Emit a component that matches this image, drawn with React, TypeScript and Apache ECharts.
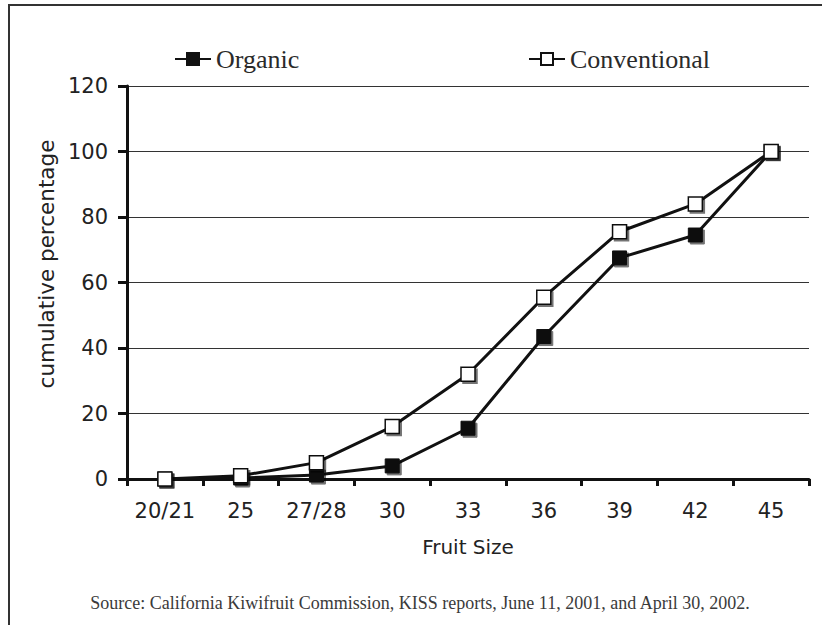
import React, { useEffect, useRef } from "react";
import * as echarts from "echarts";

const categories = ["20/21", "25", "27/28", "30", "33", "36", "39", "42", "45"];
const organic = [0, 0.3, 1.2, 4, 15.5, 43.5, 67.5, 74.5, 100];
const conventional = [0, 1, 5, 16, 32, 55.5, 75.5, 84, 100];
const yTicks = { min: 0, max: 120, interval: 20 };
const yAxisTitle = "cumulative percentage";
const xAxisTitle = "Fruit Size";
const sourceNote =
  "Source: California Kiwifruit Commission, KISS reports, June 11, 2001, and April 30, 2002.";

const SANS = "DejaVu Sans";
const SERIF = "Liberation Serif";

export default function App() {
  const ref = useRef<HTMLDivElement>(null);
  useEffect(() => {
    if (!ref.current) return;
    const chart = echarts.init(ref.current, undefined, { renderer: "svg" });
    const markerShadow = {
      shadowColor: "rgba(0,0,0,0.55)",
      shadowBlur: 0,
      shadowOffsetX: 2,
      shadowOffsetY: 2,
    };
    const legendBase = {
      top: 41,
      itemWidth: 36,
      itemHeight: 15,
      itemGap: 8,
      textStyle: { fontFamily: SERIF, fontSize: 26, color: "#2a2a2a" },
    };
    chart.setOption({
      animation: false,
      backgroundColor: "#fff",
      grid: { left: 127, right: 13, top: 86, bottom: 146 },
      legend: [
        { ...legendBase, data: ["Organic"], left: 169 },
        { ...legendBase, data: ["Conventional"], left: 523 },
      ],
      xAxis: {
        type: "category",
        data: categories,
        boundaryGap: true,
        name: xAxisTitle,
        nameLocation: "middle",
        nameGap: 58,
        nameTextStyle: { fontFamily: SANS, fontSize: 20, color: "#222" },
        axisLine: { lineStyle: { color: "#111", width: 3 } },
        axisTick: { show: true, length: 7, lineStyle: { color: "#111", width: 3 } },
        axisLabel: {
          fontFamily: SANS,
          fontSize: 21,
          color: "#222",
          margin: 21,
          interval: 0,
          hideOverlap: false,
        },
        splitLine: { show: false },
      },
      yAxis: {
        type: "value",
        min: yTicks.min,
        max: yTicks.max,
        interval: yTicks.interval,
        axisLine: { show: true, lineStyle: { color: "#111", width: 3 } },
        axisTick: { show: true, length: 9, lineStyle: { color: "#111", width: 3 } },
        axisLabel: { fontFamily: SANS, fontSize: 21, color: "#222", margin: 19 },
        splitLine: { show: true, lineStyle: { color: "#333", width: 1 } },
      },
      graphic: [
        {
          type: "rect",
          shape: { x: 9, y: 5, width: 1000, height: 1000 },
          style: { fill: "none", stroke: "#333", lineWidth: 2 },
          silent: true,
        },
        {
          type: "text",
          x: 46,
          y: 264,
          rotation: Math.PI / 2,
          style: {
            text: yAxisTitle,
            fontFamily: SANS,
            fontSize: 21.5,
            fill: "#222",
            align: "center",
            verticalAlign: "middle",
          },
        },
        {
          type: "text",
          x: 420,
          y: 603,
          style: {
            text: sourceNote,
            fontFamily: SERIF,
            fontSize: 18,
            fill: "#3a3a3a",
            align: "center",
            verticalAlign: "middle",
          },
        },
      ],
      series: [
        {
          name: "Organic",
          type: "line",
          data: organic,
          symbol: "rect",
          symbolSize: 14,
          lineStyle: { color: "#111", width: 3 },
          itemStyle: { color: "#111", borderColor: "#111", borderWidth: 1, ...markerShadow },
          z: 3,
        },
        {
          name: "Conventional",
          type: "line",
          data: conventional,
          symbol: "rect",
          symbolSize: 14,
          lineStyle: { color: "#111", width: 3 },
          itemStyle: { color: "#fff", borderColor: "#111", borderWidth: 1.5, ...markerShadow },
          z: 4,
        },
      ],
    });
    return () => chart.dispose();
  }, []);
  return (
    <div
      ref={ref}
      style={{ position: "fixed", left: 0, top: 0, width: 822, height: 625 }}
    />
  );
}
